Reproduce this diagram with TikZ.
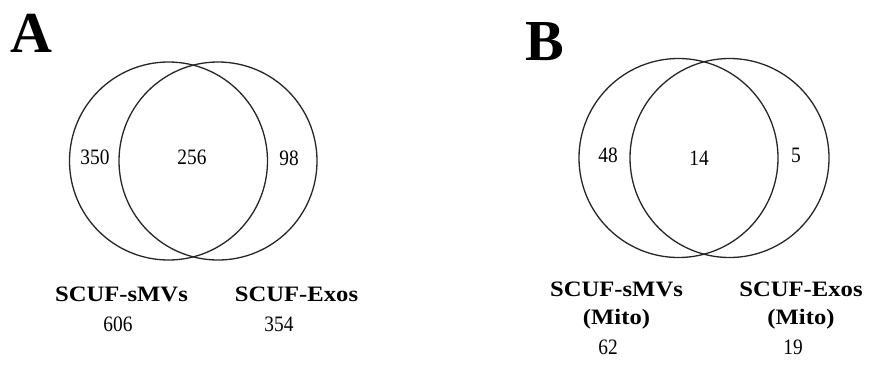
\documentclass[tikz,border=0pt]{standalone}
\usepackage{fontspec}
\setmainfont{Liberation Serif}
\begin{document}
\begin{tikzpicture}[x=1pt,y=-1pt,
  set/.style={draw=black!85,line width=1.3pt},
  panel/.style={font=\fontsize{58}{58}\selectfont\bfseries,inner sep=0pt},
  count/.style={font=\fontsize{22}{22}\selectfont,xscale=0.88,inner sep=0pt},
  setname/.style={font=\fontsize{22}{28}\selectfont\bfseries,xscale=1.12,inner sep=0pt,align=center},
  total/.style={font=\fontsize{22}{22}\selectfont,xscale=0.88,inner sep=0pt}]
\useasboundingbox (0,0) rectangle (869,370);

% Panel A: all proteins
\node[panel] (labA) at (31.5,33) {A};
\draw[set] (168.5,161) circle[radius=99pt];
\draw[set] (218,161) circle[radius=99pt];
\node[count] (a1) at (95,157) {350};
\node[count] (a2) at (192,157) {256};
\node[count] (a3) at (289,158) {98};
\node[setname] (na1) at (121.5,294) {SCUF-sMVs};
\node[setname] (na2) at (296.5,294) {SCUF-Exos};
\node[total] (ta1) at (118,324) {606};
\node[total] (ta2) at (279,324) {354};

% Panel B: mitochondrial proteins
\node[panel] (labB) at (544.5,42) {B};
\draw[set] (678.5,158) circle[radius=99.5pt];
\draw[set] (729.5,158) circle[radius=99.5pt];
\node[count] (b1) at (608,155) {48};
\node[count] (b2) at (699,158) {14};
\node[count] (b3) at (796,155) {5};
\node[setname] (nb1) at (616.5,306) {SCUF-sMVs\\(Mito)};
\node[setname] (nb2) at (801,306) {SCUF-Exos\\(Mito)};
\node[total] (tb1) at (608,347) {62};
\node[total] (tb2) at (793,347) {19};
\end{tikzpicture}
\end{document}
